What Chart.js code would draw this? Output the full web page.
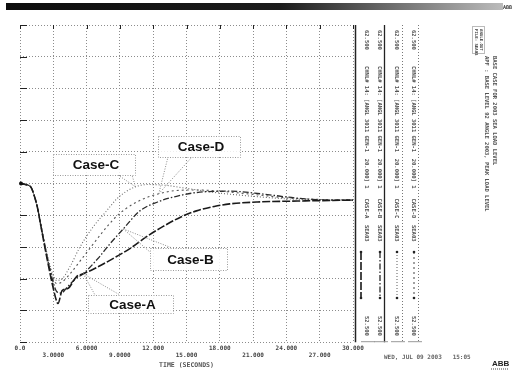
<!DOCTYPE html>
<html>
<head>
<meta charset="utf-8">
<script src="https://cdn.jsdelivr.net/npm/chart.js@4.4.1/dist/chart.umd.min.js"></script>
<style>
  html, body { margin: 0; padding: 0; background: #fff; }
  #wrap { width: 516px; height: 370px; }
</style>
</head>
<body>
<div id="wrap"><canvas id="plot" width="516" height="370"></canvas></div>
<script>
"use strict";

// ── data ────────────────────────────────────
const xTicks = [0, 3, 6, 9, 12, 15, 18, 21, 24, 27, 30];

const caseATime  = [0, 0.5, 1.0, 1.3, 1.6, 1.8, 2.4, 2.9, 3.3, 3.42, 3.8, 4.3, 5.1, 5.7, 6.6, 8.7, 9.9, 11.5, 12.9, 14.5, 15.9, 17.5, 18.9, 21.4, 25, 30];
const caseAValue = [57.5, 57.47, 57.38, 57.1, 56.7, 56.32, 55.2, 54.35, 53.79, 53.72, 54.13, 54.19, 54.57, 54.66, 54.8, 55.2, 55.45, 55.85, 56.15, 56.45, 56.64, 56.78, 56.86, 56.92, 56.95, 56.98];

const caseBTime  = [0, 0.5, 1.0, 1.3, 1.6, 1.8, 2.4, 2.9, 3.3, 3.7, 4.3, 5.0, 5.7, 7.0, 8.1, 9.3, 10.8, 12.4, 14.1, 16.2, 18.9, 21.9, 25, 27.9, 30];
const caseBValue = [57.5, 57.47, 57.38, 57.1, 56.7, 56.32, 55.25, 54.5, 54.1, 54.05, 54.25, 54.5, 54.66, 55.13, 55.6, 56.07, 56.64, 56.92, 57.1, 57.23, 57.26, 57.17, 57.04, 56.98, 56.98];

const caseCTime  = [0, 0.5, 1.0, 1.3, 1.6, 1.8, 2.4, 2.9, 3.3, 3.8, 4.5, 5.4, 6.6, 7.8, 8.7, 9.6, 10.4, 11.5, 13, 15, 18, 21, 24, 27, 30];
const caseCValue = [57.5, 57.47, 57.38, 57.1, 56.7, 56.35, 55.35, 54.7, 54.45, 54.5, 54.88, 55.5, 56.14, 56.64, 57.01, 57.26, 57.4, 57.47, 57.45, 57.35, 57.2, 57.1, 57.02, 56.99, 56.98];

const caseDTime  = [0, 0.5, 1.0, 1.3, 1.6, 1.8, 2.4, 2.9, 3.3, 3.8, 4.5, 5.5, 6.5, 7.5, 8.5, 9.5, 11, 12.5, 14, 16, 18, 21, 24, 27, 30];
const caseDValue = [57.5, 57.47, 57.38, 57.1, 56.7, 56.35, 55.3, 54.6, 54.35, 54.4, 54.65, 55.1, 55.55, 56.0, 56.4, 56.7, 57.0, 57.18, 57.28, 57.3, 57.26, 57.16, 57.05, 57.0, 56.98];

const caseNames    = ["Case-A", "Case-B", "Case-C", "Case-D"];
const channelMax   = ["62.500", "62.500", "62.500", "62.500"];
const channelMin   = ["52.500", "52.500", "52.500", "52.500"];
const channelNames = [
  "CHNL# 14: [ANGL 3011 GEN-1  20.000] 1   CASE-A  SEA03",
  "CHNL# 14: [ANGL 3011 GEN-1  20.000] 1   CASE-B  SEA03",
  "CHNL# 14: [ANGL 3011 GEN-1  20.000] 1   CASE-C  SEA03",
  "CHNL# 14: [ANGL 3011 GEN-1  20.000] 1   CASE-D  SEA03",
];
const titleLines = [
  "BASE CASE FOR 2003 SEA LOAD LEVEL",
  "APF : BASE LEVEL 92 ANGLE 2003, PEAK LOAD LEVEL",
];

function pairs(ts, vs) { return ts.map((t, i) => ({ x: t, y: vs[i] })); }

const MONO = "'DejaVu Sans Mono', monospace";

// ── decorations drawn on top ────────────────
function vtext(ctx, s, x, y) {
  ctx.save();
  ctx.translate(x, y);
  ctx.rotate(Math.PI / 2);
  ctx.fillText(s, 0, 0);
  ctx.restore();
}

function dotted(ctx, x1, y1, x2, y2, color, dash) {
  ctx.save();
  ctx.strokeStyle = color;
  ctx.lineWidth = 1;
  ctx.setLineDash(dash || [1, 2]);
  ctx.beginPath();
  ctx.moveTo(x1, y1);
  ctx.lineTo(x2, y2);
  ctx.stroke();
  ctx.restore();
}

// box: [x, y, w, h], target: [dataset, point], feet: box points the pointer starts from
const callouts = [
  { ds: 0, pt: 13, box: [88, 295, 85, 18],  feet: [[95, 295], [120, 295]] },
  { ds: 1, pt: 15, box: [150, 248, 77, 22], feet: [[150, 252], [172, 248]] },
  { ds: 2, pt: 16, box: [53, 154, 82, 21],  feet: [[118, 175], [132, 175]] },
  { ds: 3, pt: 17, box: [158, 136, 82, 21], feet: [[168, 157], [192, 157]] },
];

const scanPlugin = {
  id: "scan",
  afterDraw(chart) {
    const { ctx, chartArea: a, scales: { x, y } } = chart;

    // header band
    const g = ctx.createLinearGradient(6, 0, 505, 0);
    g.addColorStop(0, "#0d0d0d");
    g.addColorStop(0.55, "#1c1c1c");
    g.addColorStop(0.8, "#777");
    g.addColorStop(1, "#bdbdbd");
    ctx.fillStyle = g;
    ctx.fillRect(6, 3, 497, 7);
    ctx.fillStyle = "#333";
    ctx.font = "bold 5px " + MONO;
    ctx.textBaseline = "middle";
    ctx.textAlign = "left";
    ctx.fillText("ABB", 503, 8);

    // inner ticks on left and top edges
    ctx.save();
    ctx.strokeStyle = "#222";
    ctx.lineWidth = 1;
    y.ticks.forEach((t) => {
      const py = Math.round(y.getPixelForValue(t.value)) + 0.5;
      ctx.beginPath(); ctx.moveTo(a.left, py); ctx.lineTo(a.left + 7, py); ctx.stroke();
    });
    x.ticks.forEach((t) => {
      const px = Math.round(x.getPixelForValue(t.value)) + 0.5;
      ctx.beginPath(); ctx.moveTo(px, a.top); ctx.lineTo(px, a.top + 4); ctx.stroke();
    });
    // solid right frame
    ctx.lineWidth = 1.5;
    ctx.beginPath(); ctx.moveTo(a.right + 2.5, a.top); ctx.lineTo(a.right + 2.5, a.bottom); ctx.stroke();
    ctx.restore();

    // starting dot
    const p0 = chart.getDatasetMeta(0).data[0];
    ctx.fillStyle = "#111";
    ctx.beginPath(); ctx.arc(p0.x + 1, p0.y, 2, 0, Math.PI * 2); ctx.fill();

    // callouts
    callouts.forEach((c, i) => {
      const pt = chart.getDatasetMeta(c.ds).data[c.pt];
      c.feet.forEach((f) => dotted(ctx, pt.x, pt.y, f[0], f[1], "#8a8a8a", [1, 1.5]));
      const [bx, by, bw, bh] = c.box;
      ctx.fillStyle = "rgba(255,255,255,0.85)";
      ctx.fillRect(bx, by, bw, bh);
      ctx.save();
      ctx.strokeStyle = "#9a9a9a";
      ctx.setLineDash([1, 1.5]);
      ctx.strokeRect(bx + 0.5, by + 0.5, bw, bh);
      ctx.restore();
      ctx.fillStyle = "#111";
      ctx.font = "bold 13.5px 'Liberation Sans', Arial, sans-serif";
      ctx.textAlign = "center";
      ctx.textBaseline = "middle";
      ctx.fillText(caseNames[i], bx + bw / 2 + 2, by + bh / 2 + 1);
    });

    // channel strips on the right
    const textX = [366, 379, 396, 413];
    const lineX = [362, 384, 402, 418];
    const styles = chart.data.datasets;
    ctx.font = "bold 5.5px " + MONO;
    ctx.fillStyle = "#555";
    ctx.textAlign = "left";
    ctx.textBaseline = "middle";
    for (let i = 0; i < 4; i++) {
      vtext(ctx, channelMax[i], textX[i], 30);
      vtext(ctx, channelNames[i], textX[i], 66);
      vtext(ctx, channelMin[i], textX[i], 316);
      // column rule
      ctx.save();
      ctx.strokeStyle = i === 1 ? "#222" : "#777";
      ctx.lineWidth = i === 1 ? 1.3 : 1;
      ctx.setLineDash(i === 1 ? [] : [1, 2]);
      if (i > 0) {
        ctx.beginPath(); ctx.moveTo(lineX[i] + 0.5, a.top); ctx.lineTo(lineX[i] + 0.5, a.bottom); ctx.stroke();
      }
      ctx.setLineDash([]);
      ctx.strokeStyle = "#999";
      ctx.lineWidth = 1;
      ctx.beginPath(); ctx.moveTo(textX[i] - 5, a.bottom - 0.5); ctx.lineTo(textX[i] + 9, a.bottom - 0.5); ctx.stroke();
      // line style sample
      const sx = i === 0 ? 361 : textX[i] + 1;
      ctx.strokeStyle = styles[i].borderColor;
      ctx.lineWidth = styles[i].borderWidth;
      ctx.setLineDash(styles[i].borderDash);
      ctx.beginPath(); ctx.moveTo(sx, 252); ctx.lineTo(sx, 298); ctx.stroke();
      ctx.fillStyle = "#222";
      ctx.beginPath(); ctx.arc(sx, 252, 1.3, 0, Math.PI * 2); ctx.fill();
      ctx.beginPath(); ctx.arc(sx, 298, 1.3, 0, Math.PI * 2); ctx.fill();
      ctx.restore();
      ctx.fillStyle = "#555";
    }

    // title block
    ctx.save();
    ctx.strokeStyle = "#777";
    ctx.setLineDash([1, 1]);
    ctx.strokeRect(472.5, 26.5, 12, 27);
    ctx.restore();
    ctx.fillStyle = "#444";
    ctx.font = "bold 4px " + MONO;
    vtext(ctx, "FILE: SEA03", 476, 29);
    vtext(ctx, "ANGLE.OUT", 481, 29);
    ctx.font = "bold 5.5px " + MONO;
    ctx.fillStyle = "#555";
    vtext(ctx, titleLines[0], 494, 56);
    vtext(ctx, titleLines[1], 486, 56);

    // date stamp and logo
    ctx.font = "bold 6px " + MONO;
    ctx.fillStyle = "#666";
    ctx.textAlign = "left";
    ctx.fillText("WED, JUL 09 2003   15:05", 384, 357);
    ctx.font = "bold 8px 'Liberation Sans', Arial, sans-serif";
    ctx.fillStyle = "#222";
    ctx.fillText("ABB", 492, 364);
    dotted(ctx, 491, 369, 508, 369, "#444", [1, 1]);
  },
};

// ── chart ───────────────────────────────────
new Chart(document.getElementById("plot"), {
  type: "scatter",
  data: {
    datasets: [
      { label: "Case-A", data: pairs(caseATime, caseAValue), borderColor: "#1a1a1a", borderWidth: 1.6, borderDash: [8, 2] },
      { label: "Case-B", data: pairs(caseBTime, caseBValue), borderColor: "#2b2b2b", borderWidth: 1.3, borderDash: [6, 2, 1.5, 2] },
      { label: "Case-C", data: pairs(caseCTime, caseCValue), borderColor: "#6a6a6a", borderWidth: 1.1, borderDash: [1, 2] },
      { label: "Case-D", data: pairs(caseDTime, caseDValue), borderColor: "#555", borderWidth: 1.1, borderDash: [2, 3] },
    ].map((d) => Object.assign(d, { showLine: true, pointRadius: 0, cubicInterpolationMode: "monotone", fill: false })),
  },
  options: {
    responsive: false,
    animation: false,
    devicePixelRatio: 1,
    layout: { padding: { left: 20, right: 163, top: 25, bottom: 1 } },
    plugins: { legend: { display: false }, tooltip: { enabled: false } },
    scales: {
      x: {
        type: "linear",
        min: 0,
        max: 30,
        afterBuildTicks: (s) => { s.ticks = xTicks.map((v) => ({ value: v })); },
        ticks: {
          autoSkip: false,
          maxRotation: 0,
          padding: 2,
          color: "#444",
          font: { family: MONO, size: 6, weight: "bold", lineHeight: 1.25 },
          callback: (v) => {
            const i = xTicks.indexOf(v);
            const s = v === 0 ? "0.0" : v < 10 ? v.toFixed(4) : v.toFixed(3);
            return i % 2 ? ["", s] : s;
          },
        },
        grid: { color: "#8c8c8c", lineWidth: 1, drawTicks: false },
        border: { display: false, dash: [1, 2] },
        title: { display: true, text: "TIME (SECONDS)", color: "#555", font: { family: MONO, size: 6.5, weight: "bold" }, padding: { top: 0, bottom: 0 } },
      },
      y: {
        min: 52.5,
        max: 62.5,
        ticks: { display: false, stepSize: 1 },
        grid: { color: "#8c8c8c", lineWidth: 1, drawTicks: false },
        border: { display: false, dash: [1, 2] },
      },
    },
  },
  plugins: [scanPlugin],
});
</script>
</body>
</html>
